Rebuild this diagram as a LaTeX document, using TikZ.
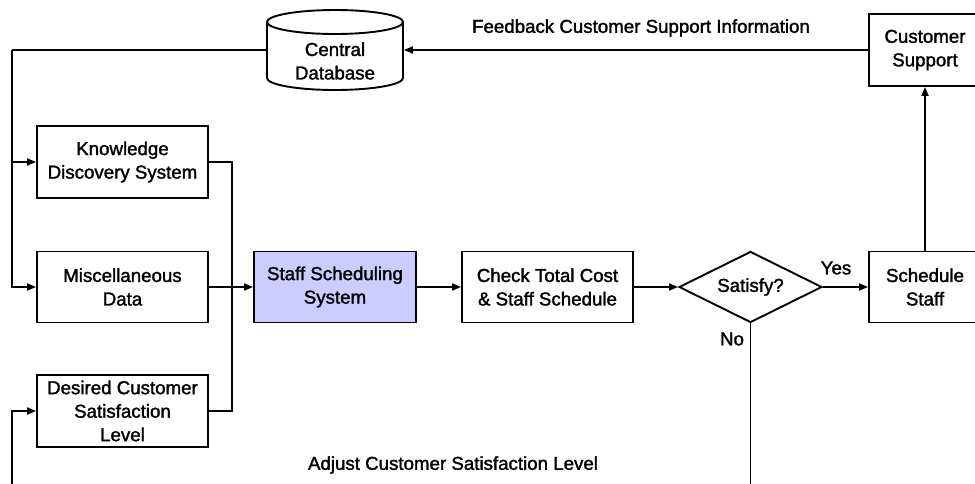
\documentclass[tikz,border=0pt]{standalone}
\usepackage{fontspec}
\setmainfont{Liberation Sans}
\newfontfamily\diagfont[FakeBold=1.6]{Liberation Sans}
\usetikzlibrary{shapes.geometric,arrows.meta}
\definecolor{sysfill}{HTML}{CCCCFF}
\begin{document}
\begin{tikzpicture}[x=1pt,y=-1pt,
  font=\diagfont\fontsize{18.7}{23.5}\selectfont,
  line width=1.9pt,
  box/.style={draw, rectangle, align=center, inner sep=0pt},
  arr/.style={-{Triangle[length=9pt,width=7pt]}},
  lbl/.style={inner sep=0pt, align=center}]
\clip (0,0) rectangle (975,483);
\fill[white] (0,0) rectangle (975,483);

% process boxes
\node[box, minimum width=171, minimum height=72] (kds) at (122.5,162) {Knowledge\\Discovery System};
\node[box, minimum width=171, minimum height=71] (misc) at (122.5,287) {Miscellaneous\\Data};
\node[box, minimum width=171, minimum height=72] (des) at (122.5,411) {Desired Customer\\Satisfaction\\Level};
\node[box, fill=sysfill, minimum width=162, minimum height=71] (sss) at (335,287) {Staff Scheduling\\System};
\node[box, minimum width=171, minimum height=71] (chk) at (547.5,287) {Check Total Cost\\\& Staff Schedule};
\node[draw, diamond, aspect=2, inner sep=0pt, minimum width=143, minimum height=71] (dia) at (750.5,287) {Satisfy?};
\node[box, minimum width=112, minimum height=71] (ss) at (925,287) {Schedule\\Staff};
\node[box, minimum width=112, minimum height=72] (cs) at (925,50) {Customer\\Support};

% central database (cylinder)
\node[inner sep=0pt, minimum width=136, minimum height=80] (db) at (335,50) {};
\draw[fill=white] (267,22) -- (267,78) arc[start angle=180, end angle=0, x radius=68, y radius=12] -- (403,22);
\draw (335,22) ellipse[x radius=68, y radius=12];
\node[lbl] (dbt) at (335,61) {Central\\Database};

% connectors
\coordinate (tl) at (12,50);
\coordinate (bl) at (12,500);
\draw[arr] (cs.west) -- (db.east);
\draw (db.west) -- (tl);
\draw[arr] (tl) |- (kds.west);
\draw[arr] (tl) |- (misc.west);
\draw (kds.east) -- ++(23,0) |- (des.east);
\draw[arr] (misc.east) -- (sss.west);
\draw[arr] (sss.east) -- (chk.west);
\draw[arr] (chk.east) -- (dia.west);
\draw[arr] (dia.east) -- (ss.west);
\draw[arr] (ss.north) -- (cs.south);
\draw (dia.south) -- ++(0,220);
\draw[arr] (bl) |- (des.west);

% labels
\node[lbl] (yes) at (836,268) {Yes};
\node[lbl] (no) at (732,339) {No};
\node[lbl] (fb) at (641,28) {Feedback Customer Support Information};
\node[lbl] (adj) at (453,465) {Adjust Customer Satisfaction Level};
\end{tikzpicture}
\end{document}
